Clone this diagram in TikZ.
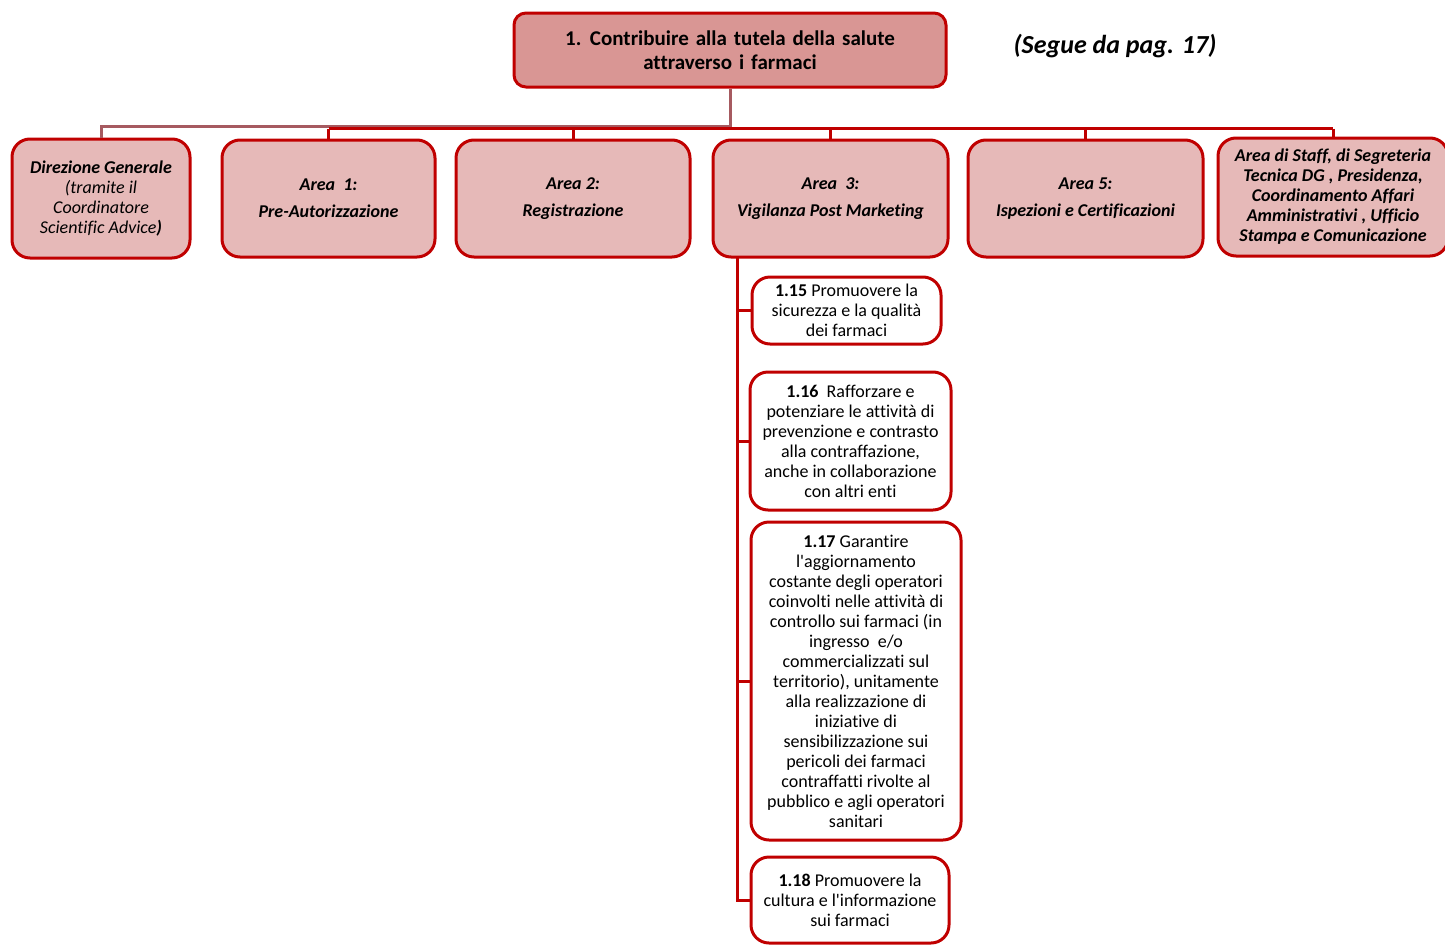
\documentclass[tikz,border=0pt]{standalone}
\usepackage{fontspec}
\setmainfont{Carlito}[Ligatures={TeXOff,NoCommon}]
\definecolor{bred}{HTML}{C00000}
\definecolor{pinkA}{HTML}{E6B9B8}
\definecolor{pinkB}{HTML}{D99694}
\definecolor{mauve}{HTML}{A65A60}
\newcommand{\widespaces}{\spaceskip=7pt plus 1pt minus 1pt\relax}
\begin{document}
\begin{tikzpicture}[x=1pt,y=-1pt,
  topbox/.style={draw=bred,line width=3pt,fill=pinkB,rounded corners=12pt,inner sep=0pt,align=center,
    font=\fontsize{21}{24}\selectfont\bfseries},
  areabox/.style={draw=bred,line width=3pt,fill=pinkA,rounded corners=18pt,inner sep=0pt,align=center,
    font=\fontsize{18}{20}\selectfont\bfseries\itshape},
  objbox/.style={draw=bred,line width=3pt,fill=white,rounded corners=18pt,inner sep=0pt,align=center,
    font=\fontsize{18}{20}\selectfont},
  conn/.style={draw=bred,line width=3pt},
  gconn/.style={draw=mauve,line width=3pt}]
\useasboundingbox (0,0) rectangle (1445,945);

\node[topbox,minimum width=432pt,minimum height=74pt] (top) at (730,50)
  {\widespaces 1. Contribuire alla tutela della salute\\\widespaces attraverso i farmaci};
\node[font=\fontsize{26}{30}\selectfont\bfseries\itshape] (segue) at (1115,46) {(Segue da pag. 17)};

\node[areabox,minimum width=178pt,minimum height=119pt] (dg) at (101,198.5)
  {Direzione Generale\\{\mdseries(tramite il}\\{\mdseries Coordinatore}\\{\mdseries Scientific Advice})};
\node[areabox,minimum width=213pt,minimum height=117pt] (a1) at (328.5,198.5)
  {Area\ \ 1:\\[7pt]Pre-Autorizzazione};
\node[areabox,minimum width=234pt,minimum height=117pt] (a2) at (573,198.5)
  {Area 2:\\[7pt]Registrazione};
\node[areabox,minimum width=235pt,minimum height=117pt] (a3) at (830.5,198.5)
  {Area\ \ 3:\\[7pt]Vigilanza Post Marketing};
\node[areabox,minimum width=235pt,minimum height=117pt] (a5) at (1085.5,198.5)
  {Area 5:\\[7pt]Ispezioni e Certificazioni};
\node[areabox,minimum width=230pt,minimum height=118pt] (st) at (1333,197)
  {Area di Staff, di Segreteria\\Tecnica DG , Presidenza,\\Coordinamento Affari\\Amministrativi , Ufficio\\Stampa e Comunicazione};

\node[objbox,minimum width=189pt,minimum height=67pt] (s15) at (846.5,310.5)
  {\textbf{1.15} Promuovere la\\sicurezza e la qualità\\dei farmaci};
\node[objbox,minimum width=201pt,minimum height=138pt] (s16) at (850.5,441)
  {\textbf{1.16}\ \ Rafforzare e\\potenziare le attività di\\prevenzione e contrasto\\alla contraffazione,\\anche in collaborazione\\con altri enti};
\node[objbox,minimum width=210pt,minimum height=318pt] (s17) at (856,681)
  {\textbf{1.17} Garantire\\l'aggiornamento\\costante degli operatori\\coinvolti nelle attività di\\controllo sui farmaci (in\\ingresso\ \ e/o\\commercializzati sul\\territorio), unitamente\\alla realizzazione di\\iniziative di\\sensibilizzazione sui\\pericoli dei farmaci\\contraffatti rivolte al\\pubblico e agli operatori\\sanitari};
\node[objbox,minimum width=198pt,minimum height=86pt] (s18) at (850,900)
  {\textbf{1.18} Promuovere la\\cultura e l'informazione\\sui farmaci};

% bus
\coordinate (busg) at (730,126);
\coordinate (busr) at (730,128.5);
\draw[gconn] (top.south) -- (top.south |- busg) -| (dg.north);
\draw[conn] (a1.north |- busr) -- (st.north |- busr);
\foreach \n in {a1,a2,a3,a5,st} \draw[conn] (\n.north |- busr) -- (\n.north);

% Area 3 tree
\coordinate (v0) at (737,256);
\draw[conn] (v0) |- (s18.west);
\foreach \n in {s15,s16,s17} \draw[conn] (v0 |- \n.west) -- (\n.west);
\end{tikzpicture}
\end{document}
